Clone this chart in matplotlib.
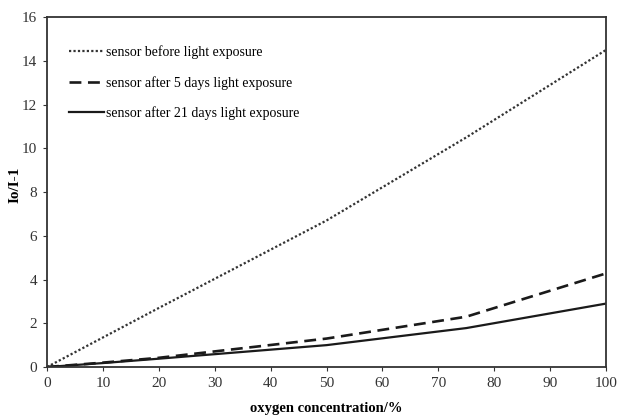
import matplotlib
matplotlib.use("Agg")
import matplotlib.pyplot as plt

oxygen = [0, 10, 20, 50, 75, 100]
before = [0, 1.35, 2.7, 6.7, 10.5, 14.5]
after_5 = [0, 0.2, 0.42, 1.3, 2.3, 4.28]
after_21 = [0, 0.18, 0.38, 1.0, 1.78, 2.9]

labels = ["sensor before light exposure",
          "sensor after 5 days light exposure",
          "sensor after 21 days light exposure"]


def main():
    plt.rcParams["font.family"] = ["Liberation Serif", "DejaVu Serif"]

    fig = plt.figure(figsize=(6.17, 4.18), dpi=100)
    ax = fig.add_axes([0.0762, 0.122, 0.906, 0.837])

    ax.plot(oxygen, before, color="#333333", lw=1.6, linestyle=(0, (1, 1)), label=labels[0])
    ax.plot(oxygen, after_5, color="#1a1a1a", lw=1.9, linestyle=(0, (4.5, 2.5)), label=labels[1])
    ax.plot(oxygen, after_21, color="#1a1a1a", lw=1.6, linestyle="-", label=labels[2])

    ax.set_xlim(0, 100)
    ax.set_ylim(0, 16)
    ax.set_xticks(range(0, 101, 10))
    ax.set_yticks(range(0, 17, 2))
    ax.tick_params(direction="out", length=3, width=0.8, labelsize=11, colors="#333333",
                   pad=4)
    for s in ax.spines.values():
        s.set_linewidth(1.3)
        s.set_color("#333333")

    ax.set_xlabel("oxygen concentration/%", fontsize=10.5, fontweight="bold", labelpad=9)
    ax.set_ylabel("Io/I-1", fontsize=11, fontweight="bold")
    ax.yaxis.set_label_coords(-0.046, 0.52)

    ax.legend(loc="upper left", bbox_to_anchor=(0.03, 0.935), frameon=False,
              fontsize=10, handlelength=2.5, handletextpad=0.15, labelspacing=1.2,
              borderaxespad=0)

    fig.savefig("out.png", dpi=100)


if __name__ == "__main__":
    main()
